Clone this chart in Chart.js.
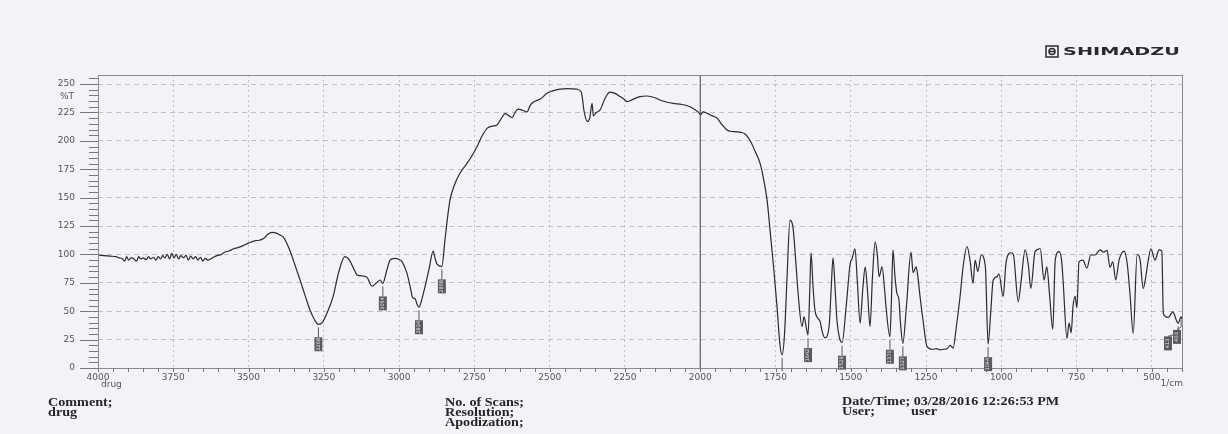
<!DOCTYPE html>
<html>
<head>
<meta charset="utf-8">
<script src="https://cdn.jsdelivr.net/npm/chart.js@4"></script>
<style>
  html, body { margin: 0; padding: 0; background: #f3f2f7; }
  canvas { display: block; }
</style>
</head>
<body>
<canvas id="irChart" width="1228" height="434"></canvas>
<script>
// wavenumber (1/cm) and %T
const wavenumber = [
    4000, 3980, 3960, 3940, 3930, 3920, 3912, 3905, 3898, 3890, 3880, 3872, 3865, 3858, 3850, 3840,
    3832, 3825, 3815, 3808, 3800, 3792, 3785, 3778, 3770, 3762, 3755, 3748, 3740, 3732, 3725, 3716,
    3708, 3700, 3692, 3684, 3676, 3668, 3660, 3652, 3645, 3635, 3620, 3605, 3590, 3580, 3565, 3550,
    3535, 3520, 3500, 3480, 3465, 3450, 3435, 3422, 3410, 3395, 3385, 3365, 3345, 3329, 3310, 3296,
    3280, 3268, 3255, 3240, 3219, 3200, 3180, 3165, 3150, 3140, 3120, 3107, 3090, 3075, 3063, 3054,
    3042, 3030, 3015, 3003, 2990, 2974, 2962, 2955, 2947, 2940, 2934, 2925, 2914, 2900, 2887, 2880,
    2874, 2858, 2848, 2838, 2831, 2815, 2798, 2775, 2760, 2741, 2725, 2708, 2690, 2675, 2660, 2648,
    2635, 2625, 2615, 2605, 2590, 2575, 2565, 2555, 2530, 2509, 2490, 2466, 2440, 2409, 2395, 2385,
    2375, 2367, 2359, 2355, 2345, 2333, 2315, 2300, 2285, 2266, 2250, 2243, 2220, 2200, 2177, 2150,
    2130, 2110, 2090, 2060, 2034, 2015, 2007, 1998, 1991, 1975, 1960, 1944, 1930, 1911, 1900, 1880,
    1865, 1851, 1835, 1818, 1801, 1790, 1778, 1768, 1755, 1745, 1735, 1728, 1720, 1712, 1702, 1692,
    1683, 1675, 1662, 1655, 1648, 1642, 1636, 1632, 1625, 1619, 1610, 1602, 1595, 1586, 1572, 1565,
    1559, 1552, 1546, 1537, 1529, 1515, 1502, 1496, 1486, 1478, 1469, 1460, 1452, 1445, 1436, 1428,
    1419, 1412, 1406, 1396, 1388, 1383, 1370, 1365, 1360, 1353, 1347, 1340, 1335, 1327, 1315, 1300,
    1293, 1283, 1277, 1270, 1260, 1247, 1230, 1215, 1204, 1190, 1180, 1170, 1160, 1150, 1137, 1127,
    1114, 1104, 1094, 1087, 1078, 1067, 1053, 1044, 1035, 1027, 1014, 1008, 994, 984, 968, 960,
    944, 935, 921, 910, 902, 888, 871, 858, 849, 840, 829, 821, 808, 800, 795, 782,
    775, 768, 762, 755, 749, 742, 729, 716, 703, 689, 672, 660, 649, 639, 630, 620,
    609, 592, 582, 573, 562, 549, 539, 529, 522, 512, 503, 490, 476, 467, 462, 446,
    430, 420, 413, 403, 400
];
const transmittance = [
    99.5, 99, 98.5, 98, 97, 96.5, 94, 98, 95, 97, 96, 94, 98, 96, 97, 95.5,
    98, 96, 97.5, 95, 98, 96, 99, 97, 100, 96, 101, 97, 100, 96, 99, 97,
    99.5, 95, 98.5, 96, 98, 95, 97.5, 94, 96.5, 95, 97, 99, 100, 102, 103, 105,
    106, 107.5, 110, 112, 112.5, 114, 118, 119.5, 119, 117, 115.5, 105, 90, 77.5, 62, 51,
    42, 38.5, 40, 48, 63, 85, 98, 95, 87, 82, 81, 80, 72, 75, 77.5, 74.5,
    85, 95, 96.5, 96, 93.5, 83.5, 70, 62, 61, 56, 53.5, 60, 71.5, 88, 103, 96,
    91.5, 89.5, 112, 135, 148, 162, 171.5, 180, 186, 195, 204, 211, 213, 214, 220, 224,
    222, 220.5, 225, 228, 227, 225.5, 231, 234, 237, 242, 244, 245.5, 246, 245.5, 243, 225,
    217, 220, 233, 222, 225, 227, 238, 243, 242, 239, 236, 234.5, 237, 239, 239.5, 238,
    235.5, 234, 233, 232, 230, 227, 225.5, 223, 225.5, 224, 222, 220, 215, 209.5, 208.5, 208,
    207.5, 206, 200.5, 191, 180, 167, 148, 121, 85, 54, 20, 11.5, 30, 77.5, 130, 124,
    95, 66, 36.5, 45, 36, 29, 70, 101.5, 70, 51, 44, 41, 32, 26.5, 36.5, 70,
    97, 70, 42, 26, 22.3, 55, 92, 96, 105, 75, 39.5, 70, 89, 70, 36.5, 80,
    111, 100, 80.5, 89, 70, 54, 27.5, 60, 104, 80, 66, 60, 40, 21.7, 55, 102,
    84, 89, 80, 63, 42, 19, 16.5, 17, 16, 16.5, 17, 20, 17.5, 35, 63, 89,
    107, 95, 74.5, 95, 85, 99.5, 89, 21, 50, 77.5, 80.5, 83, 63, 93.5, 101.5, 100,
    58.5, 75, 104, 90, 70, 102.5, 105, 77.5, 89, 65, 34, 95, 102.5, 95, 77.5, 26,
    39.5, 31, 54, 63, 53, 93.5, 95, 88, 99.5, 99.5, 104, 102, 103.5, 88.5, 93.5, 77.5,
    95, 103, 92, 66, 30.5, 100, 95, 70, 77.5, 95, 105, 95, 104, 103, 48, 44.5,
    49.5, 43, 39.3, 45, 43
];
const xTickLabels = [4000, 3750, 3500, 3250, 3000, 2750, 2500, 2250, 2000, 1750, 1500, 1250, 1000, 750, 500];
const yTickLabels = [0, 25, 50, 75, 100, 125, 150, 175, 200, 225, 250];
const peakLabels = [3268, 3054, 2934, 2858, 1728, 1642, 1529, 1370, 1327, 1044, 413, 403];

const textColor = '#262626';
const gridColor = 'rgba(150, 150, 160, 0.55)';

const valueAt = wn => {
    let best = 0;
    wavenumber.forEach((w, i) => {
        if (Math.abs(w - wn) < Math.abs(wavenumber[best] - wn)) best = i;
    });
    return transmittance[best];
};

// the scan's printout text is wider than Liberation Serif, so stretch it
const stretchText = (ctx, text, x, y, sx) => {
    ctx.save();
    ctx.translate(x, y);
    ctx.scale(sx, 1);
    ctx.fillText(text, 0, 0);
    ctx.restore();
};

const sheetPlugin = {
    id: 'sheet',
    beforeDatasetsDraw(chart) {
        const { ctx, chartArea: a, scales: { x } } = chart;
        const x2000 = x.getPixelForValue(2000);
        ctx.save();
        ctx.strokeStyle = '#444';
        ctx.lineWidth = 1;
        ctx.beginPath();
        ctx.moveTo(x2000, a.top);
        ctx.lineTo(x2000, a.bottom);
        ctx.stroke();
        ctx.restore();
    },
    afterDraw(chart) {
        const { ctx, chartArea: a, scales: { x, y } } = chart;
        ctx.save();

        // frame
        ctx.strokeStyle = '#8a8a90';
        ctx.lineWidth = 1;
        ctx.strokeRect(a.left + 0.5, a.top + 0.5, a.right - a.left, a.bottom - a.top);

        // tick marks
        ctx.strokeStyle = '#777';
        ctx.beginPath();
        for (let v = 0; v <= 255; v += 5) {
            const py = Math.round(y.getPixelForValue(v)) + 0.5;
            ctx.moveTo(a.left, py);
            ctx.lineTo(a.left - (v % 25 === 0 ? 18 : 9), py);
        }
        for (let w = 4000; w >= 400; w -= 50) {
            const px = Math.round(x.getPixelForValue(w)) + 0.5;
            ctx.moveTo(px, a.bottom);
            ctx.lineTo(px, a.bottom + 4);
        }
        ctx.stroke();

        // peak markers
        let boxes = peakLabels.map(wn => ({
            wn: wn,
            px: x.getPixelForValue(wn),
            py: y.getPixelForValue(valueAt(wn))
        }));
        for (let i = boxes.length - 1; i >= 0; i--) {
            boxes[i].bx = Math.min(boxes[i].px, a.right - 5);
            if (i < boxes.length - 1 && boxes[i + 1].bx - boxes[i].bx < 9) boxes[i].bx = boxes[i + 1].bx - 9;
        }
        boxes.forEach(b => {
            const top = b.py + 13;
            ctx.strokeStyle = '#555';
            ctx.beginPath();
            ctx.moveTo(b.px, b.py + 3);
            if (top > a.bottom - 5) {
                ctx.lineTo(b.px, a.bottom + 3);
                ctx.stroke();
                return;
            }
            ctx.lineTo(b.px, top - 3);
            ctx.lineTo(b.bx, top);
            ctx.stroke();
            ctx.fillStyle = '#5a5a60';
            ctx.fillRect(b.bx - 4, top, 8, 14);
            ctx.save();
            ctx.translate(b.bx, top + 7);
            ctx.rotate(-Math.PI / 2);
            ctx.fillStyle = '#e8e8ec';
            ctx.font = '5px "DejaVu Sans"';
            ctx.textAlign = 'center';
            ctx.textBaseline = 'middle';
            ctx.fillText(String(b.wn), 0, 0);
            ctx.restore();
        });

        // axis captions
        ctx.fillStyle = '#555';
        ctx.font = '9px "DejaVu Sans"';
        ctx.textBaseline = 'middle';
        ctx.textAlign = 'right';
        ctx.fillText('%T', 74, 97);
        ctx.textAlign = 'left';
        ctx.fillText('drug', 101, 385);
        ctx.textAlign = 'right';
        ctx.fillText('1/cm', 1183, 384);

        // footer
        ctx.fillStyle = textColor;
        ctx.font = 'bold 12px "Liberation Serif"';
        ctx.textAlign = 'left';
        stretchText(ctx, 'Comment;', 48, 403, 1.18);
        stretchText(ctx, 'drug', 48, 413, 1.18);
        stretchText(ctx, 'No. of Scans;', 445, 403, 1.18);
        stretchText(ctx, 'Resolution;', 445, 413, 1.18);
        stretchText(ctx, 'Apodization;', 445, 423, 1.18);
        stretchText(ctx, 'Date/Time; 03/28/2016 12:26:53 PM', 842, 402, 1.18);
        stretchText(ctx, 'User;', 842, 412, 1.18);
        stretchText(ctx, 'user', 911, 412, 1.18);

        // logo
        ctx.strokeStyle = '#2a2a2a';
        ctx.lineWidth = 1.5;
        ctx.strokeRect(1046, 46, 12, 11);
        ctx.beginPath();
        ctx.arc(1052, 51.5, 3, 0, Math.PI * 2);
        ctx.moveTo(1049, 51.5);
        ctx.lineTo(1055, 51.5);
        ctx.stroke();
        ctx.fillStyle = '#2a2a2a';
        ctx.font = 'bold 13px "DejaVu Sans"';
        const w = ctx.measureText('SHIMADZU').width;
        ctx.translate(1063, 52);
        ctx.scale(117 / w, 0.85);
        ctx.textAlign = 'left';
        ctx.fillText('SHIMADZU', 0, 0);
        ctx.restore();
    }
};

const ctxIr = document.getElementById('irChart').getContext('2d');
new Chart(ctxIr, {
    type: 'line',
    data: {
        datasets: [{
            data: wavenumber.map((w, i) => ({ x: w, y: transmittance[i] })),
            borderColor: '#2b2b2b',
            borderWidth: 1.2,
            pointRadius: 0,
            cubicInterpolationMode: 'monotone',
            fill: false
        }]
    },
    options: {
        responsive: false,
        animation: false,
        layout: {
            padding: { top: 75, right: 46, left: 0, bottom: 0 }
        },
        plugins: {
            legend: { display: false },
            tooltip: { enabled: false }
        },
        scales: {
            x: {
                type: 'linear',
                reverse: true,
                min: 400,
                max: 4000,
                afterBuildTicks: scale => {
                    scale.ticks = xTickLabels.map(v => ({ value: v }));
                },
                afterFit: scale => {
                    scale.height = 66;
                },
                ticks: {
                    color: '#555',
                    font: { family: 'DejaVu Sans', size: 9 },
                    padding: 4,
                    maxRotation: 0,
                    autoSkip: false,
                    callback: value => String(value)
                },
                grid: {
                    color: gridColor,
                    drawTicks: false
                },
                border: {
                    display: false,
                    dash: [2, 3]
                }
            },
            y: {
                min: 0,
                max: 258,
                afterBuildTicks: scale => {
                    scale.ticks = yTickLabels.map(v => ({ value: v }));
                },
                afterFit: scale => {
                    scale.width = 98;
                },
                ticks: {
                    color: '#555',
                    font: { family: 'DejaVu Sans', size: 9 },
                    padding: 23
                },
                grid: {
                    color: gridColor,
                    drawTicks: false
                },
                border: {
                    display: false,
                    dash: [5, 4]
                }
            }
        }
    },
    plugins: [sheetPlugin]
});
</script>
</body>
</html>
